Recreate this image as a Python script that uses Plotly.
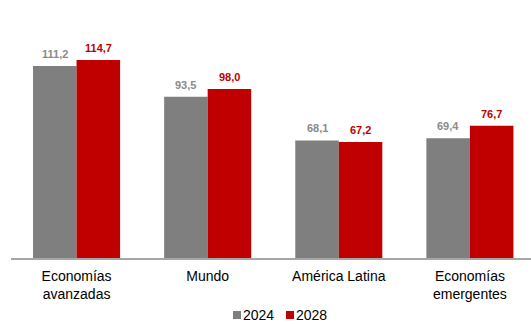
import plotly.graph_objects as go

# Regions and the two years being compared
categories = ["Economías<br>avanzadas", "Mundo", "América Latina", "Economías<br>emergentes"]
values_2024 = [111.2, 93.5, 68.1, 69.4]
values_2028 = [114.7, 98.0, 67.2, 76.7]
series_names = ["2024", "2028"]

GRAY = "#7f7f7f"
RED = "#c00000"
LABEL_GRAY = "#8a8a8a"
FONT = "Liberation Sans, Arial, sans-serif"

BARGAP = 0.336
half = (1 - BARGAP) / 4  # centre offset of each bar inside its group


def fmt(v):
    return f"{v:.1f}".replace(".", ",")


fig = go.Figure()
for name, vals, color in [(series_names[0], values_2024, GRAY), (series_names[1], values_2028, RED)]:
    fig.add_trace(go.Bar(
        x=categories, y=vals, name=name,
        marker=dict(color=color, line=dict(width=0)),
        showlegend=False, hoverinfo="skip",
    ))

# value labels above each bar
annotations = []
for i in range(len(categories)):
    for vals, off, col in [(values_2024, -half, LABEL_GRAY), (values_2028, half, RED)]:
        annotations.append(dict(
            x=i + off, y=vals[i], xref="x", yref="y",
            text=f"<b>{fmt(vals[i])}</b>", showarrow=False,
            yanchor="middle", yshift=12,
            font=dict(family=FONT, size=11, color=col),
        ))

# custom legend below the axis
legend_items = [(series_names[0], GRAY, 0.4269), (series_names[1], RED, 0.5288)]
shapes = []
for name, color, x0 in legend_items:
    shapes.append(dict(type="rect", xref="paper", yref="paper",
                       x0=x0, x1=x0 + 0.0154, y0=-0.2364, y1=-0.2054,
                       fillcolor=color, line=dict(width=0)))
    annotations.append(dict(x=x0 + 0.0154, y=-0.2209, xref="paper", yref="paper",
                            text=name, showarrow=False, xanchor="left", yanchor="middle",
                            font=dict(family=FONT, size=14, color="#000000")))

fig.update_layout(
    width=531, height=324,
    margin=dict(l=11, r=0, t=0, b=66, autoexpand=False),
    paper_bgcolor="white", plot_bgcolor="white",
    barmode="group", bargap=BARGAP, bargroupgap=0,
    annotations=annotations, shapes=shapes,
    font=dict(family=FONT, size=14, color="#000000"),
    xaxis=dict(
        type="category", range=[-0.5, 3.466],
        showline=True, linecolor="#a6a6a6", linewidth=1.5,
        ticks="", showgrid=False, zeroline=False,
        ticklabelstandoff=4,
        tickfont=dict(family=FONT, size=14, color="#000000"),
    ),
    yaxis=dict(range=[0, 149.5], visible=False, showgrid=False, zeroline=False),
)

fig.write_html("out.html")
